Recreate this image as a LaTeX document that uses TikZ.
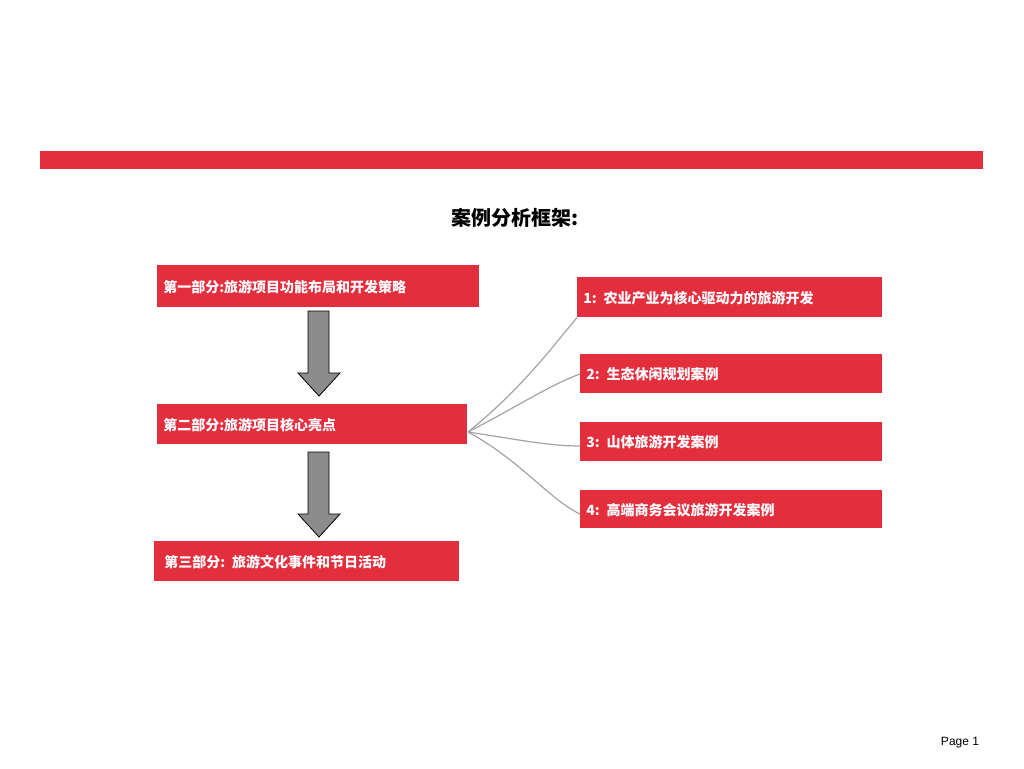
\documentclass[tikz,border=0pt]{standalone}
\usepackage{fontspec}
\setmainfont{Liberation Sans}
\newfontfamily\cjk{Noto Sans CJK SC}
\definecolor{bred}{HTML}{E32E3E}
\definecolor{agray}{HTML}{8C8C8C}
\begin{document}
\begin{tikzpicture}[x=0.75pt,y=-0.75pt,
  rbox/.style={fill=bred,draw=none,inner sep=0pt,text=white,font=\cjk\bfseries\fontsize{10.5pt}{12pt}\selectfont,anchor=north west,align=left,text depth=0pt},
  con/.style={draw=agray!80,line width=0.9pt},
  darrow/.style={fill=agray,draw=black,line width=0.6pt}]
\useasboundingbox (0,0) rectangle (1024,768);
\fill[bred] (40,151) rectangle (983,169);
\node (title) at (515,218) {\cjk\bfseries\fontsize{15pt}{18pt}\selectfont 案例分析框架:};
\node[rbox,minimum width=322*0.75pt,minimum height=42*0.75pt,text width=310*0.75pt] (b1) at (157,265) {第一部分:旅游项目功能布局和开发策略};
\node[rbox,minimum width=310*0.75pt,minimum height=40*0.75pt,text width=298*0.75pt] (b2) at (157,404) {第二部分:旅游项目核心亮点};
\node[rbox,minimum width=305*0.75pt,minimum height=40*0.75pt,text width=285*0.75pt] (b3) at (154,541) {\hspace*{0pt}第三部分: 旅游文化事件和节日活动};
\node[rbox,minimum width=305*0.75pt,minimum height=40*0.75pt,text width=293*0.75pt] (r1) at (577,277) {1:  农业产业为核心驱动力的旅游开发};
\node[rbox,minimum width=302*0.75pt,minimum height=39*0.75pt,text width=290*0.75pt] (r2) at (580,354) {2:  生态休闲规划案例};
\node[rbox,minimum width=302*0.75pt,minimum height=39*0.75pt,text width=290*0.75pt] (r3) at (580,422) {3:  山体旅游开发案例};
\node[rbox,minimum width=302*0.75pt,minimum height=38*0.75pt,text width=290*0.75pt] (r4) at (580,490) {4:  高端商务会议旅游开发案例};
\foreach \t in {311,452}{
  \draw[darrow] (308,\t) -- (329,\t) -- (329,\t+62) -- (340,\t+62) -- (319,\t+85) -- (298,\t+62) -- (308,\t+62) -- cycle;
}
\coordinate (hub) at (468,432);
\draw[con] (hub) .. controls (520,390) and (550,350) .. (r1.south west);
\draw[con] (hub) .. controls (520,405) and (550,385) .. ([yshift=-15pt]r2.north west);
\draw[con] (hub) .. controls (520,440) and (550,446) .. ([yshift=-18pt]r3.north west);
\draw[con] (hub) .. controls (520,460) and (550,500) .. ([yshift=-18pt]r4.north west);
\node (page) at (960,743) {\fontsize{9pt}{10pt}\selectfont Page 1};
\end{tikzpicture}
\end{document}
